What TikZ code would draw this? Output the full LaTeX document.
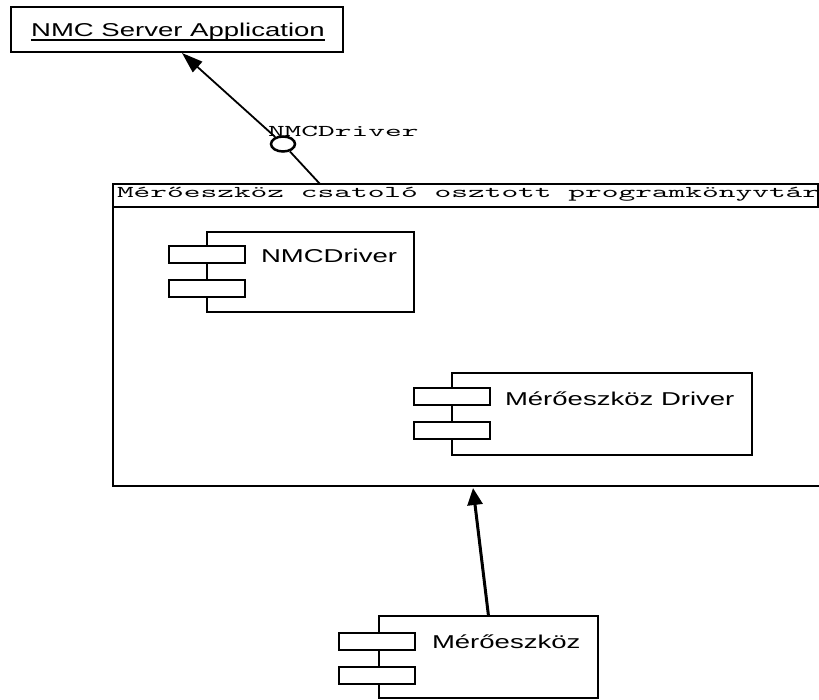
\documentclass[tikz,border=0pt]{standalone}
\usepackage{fontspec}
\setmainfont{Liberation Sans}[FakeStretch=1.48]
\newfontfamily\monof{lmmono10-regular.otf}[FakeStretch=1.93]
\usetikzlibrary{arrows.meta,shapes.geometric,calc}
\newcommand{\sansfnt}{\fontsize{18.6pt}{22pt}\selectfont}
\newcommand{\monofnt}{\monof\fontsize{16.5pt}{20pt}\selectfont}
\tikzset{
  frame/.style={draw, line width=2.8pt, anchor=north west, inner sep=0pt, outer sep=0pt},
  compbody/.style={draw, line width=2.5pt, fill=white, anchor=north west, inner sep=0pt, outer sep=0pt},
  port/.style={draw, line width=2.5pt, fill=white, anchor=north west, inner sep=0pt, outer sep=0pt,
               minimum width=76pt, minimum height=17pt},
  sanslbl/.style={anchor=base west, inner sep=0pt, outer sep=0pt, font=\sansfnt},
  monolbl/.style={anchor=base west, inner sep=0pt, outer sep=0pt, font=\monofnt},
  dep/.style={-{Triangle[length=21pt,width=14pt]}},
}
\begin{document}
\begin{tikzpicture}[x=1pt,y=-1pt]
\useasboundingbox (0,0) rectangle (819,700);
\clip (0,0) rectangle (819,700);
\fill[white] (0,0) rectangle (819,700);

% server application
\node[frame, minimum width=332pt, minimum height=45pt] (srv) at (11,7) {};
\node[anchor=base, inner sep=0pt, font=\sansfnt] (srvtext) at (178,37) {NMC Server Application};
\draw[line width=1.1pt] ($(srvtext.base west)+(0,3)$) -- ($(srvtext.base east)+(0,3)$);

% package
\node[frame, minimum width=717pt, minimum height=279pt] (pkg) at (113,207) {};
\node[frame, line width=2.4pt, minimum width=705pt, minimum height=23pt] (pkgtitle) at (113,184) {};
\node[monolbl] (pkgname) at (117,198) {Mérőeszköz csatoló osztott programkönyvtár};

% NMCDriver component
\node[compbody, minimum width=207pt, minimum height=80pt] (nmcd) at (207,232) {};
\node[port] (nmcdp1) at (169,246) {};
\node[port] (nmcdp2) at (169,280) {};
\node[sanslbl] (nmcdtext) at (261,263) {NMCDriver};

% Mérőeszköz Driver component
\node[compbody, minimum width=300pt, minimum height=82pt] (drv) at (452,373) {};
\node[port] (drvp1) at (414,388) {};
\node[port] (drvp2) at (414,422) {};
\node[sanslbl] (drvtext) at (505,405) {Mérőeszköz Driver};

% Mérőeszköz component
\node[compbody, minimum width=219pt, minimum height=82pt] (mero) at (379,616) {};
\node[port] (merop1) at (339,633) {};
\node[port] (merop2) at (339,667) {};
\node[sanslbl] (merotext) at (432,648) {Mérőeszköz};

% provided interface
\node[ellipse, draw, line width=2.5pt, minimum width=24pt, minimum height=15pt, inner sep=0pt] (iface) at (283,144) {};
\node[monolbl] (ifacetext) at (268,137) {NMCDriver};
\coordinate (pkgtop) at (320,184);
\draw[line width=1.8pt] (pkgtop) -- (iface);
\coordinate (srvtip) at (182,53);
\draw[dep, line width=1.8pt] (iface) -- (srvtip);

% dependency from the device
\coordinate (pkgtip) at (473,488);
\draw[-{Triangle[length=17pt,width=15pt]}, line width=3pt] (mero.north) -- (pkgtip);
\end{tikzpicture}
\end{document}
